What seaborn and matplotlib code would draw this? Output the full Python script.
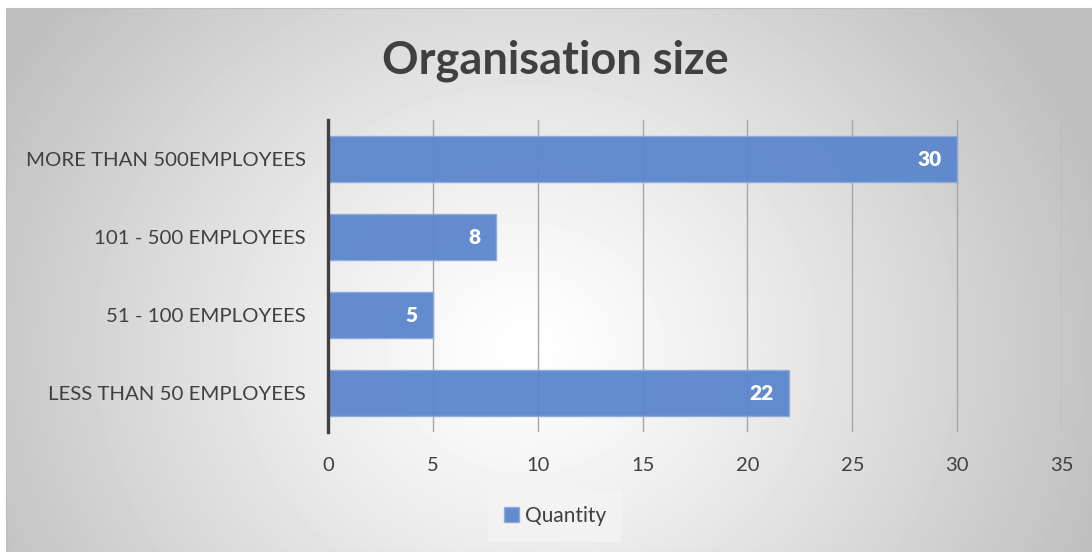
import numpy as np
import pandas as pd
import matplotlib.pyplot as plt
import seaborn as sb

# podaci
categories = ['MORE THAN 500EMPLOYEES', '101 - 500 EMPLOYEES', '51 - 100 EMPLOYEES', 'LESS THAN 50 EMPLOYEES']
quantity = [30, 8, 5, 22]
ticks = [0, 5, 10, 15, 20, 25, 30, 35]

df = pd.DataFrame({'size': categories, 'Quantity': quantity})

sb.set_style('white')
plt.rcParams['font.family'] = ['Lato', 'DejaVu Sans']
txt = '#404040'
bar_col = '#5b86cc'

fig = plt.figure(figsize=(10.92, 5.52), dpi=100)

# pozadina - radijalni gradijent
bg = fig.add_axes([6 / 1092, 0, 1 - 6 / 1092, 1 - 8 / 552])
yy, xx = np.mgrid[0:544, 0:1086]
r = np.sqrt(((xx - 520) / 600) ** 2 + ((yy - 340) / 540) ** 2)
shade = 1 - 0.25 * np.clip(r, 0, 1) ** 1.2
bg.imshow(shade, cmap='gray', vmin=0, vmax=1, aspect='auto', extent=[0, 1, 0, 1], origin='upper')
bg.set_xlim(0, 1)
bg.set_ylim(0, 1)
for s in bg.spines.values():
    s.set_color('#bfbfbf')
    s.set_linewidth(0.8)
bg.set_xticks([])
bg.set_yticks([])

ax = fig.add_axes([328 / 1092, 1 - 432 / 552, (1062 - 328) / 1092, 312 / 552])
ax.patch.set_alpha(0)
sb.barplot(data=df, y='size', x='Quantity', order=categories, orient='h', color=bar_col,
           width=0.59, saturation=1, edgecolor='#8eaadc', linewidth=1, alpha=0.95, ax=ax, zorder=3,
           label='Quantity')

for i, v in enumerate(quantity):
    ax.text(v - 0.75, i, str(v), color='white', fontweight='heavy', fontsize=15,
            ha='right', va='center', zorder=4)

ax.set_xlim(0, 35)
ax.set_xticks(ticks)
ax.xaxis.grid(True, color='#a6a6a6', linewidth=1, zorder=0)
ax.set_axisbelow(True)
ax.tick_params(axis='x', length=0, pad=18, labelsize=14.5, labelcolor=txt)
ax.tick_params(axis='y', length=0, pad=16, labelsize=14.7, labelcolor=txt)
ax.set_xlabel('')
ax.set_ylabel('')
for s in ['top', 'right', 'bottom']:
    ax.spines[s].set_visible(False)
ax.spines['left'].set_color('#404040')
ax.spines['left'].set_linewidth(2.4)
ax.spines['left'].set_zorder(5)

fig.text(555 / 1092, 1 - 61 / 552, 'Organisation size', ha='center', va='center',
         fontsize=32.5, fontweight='bold', color=txt)

leg = ax.legend(loc='center', bbox_to_anchor=(555 / 1092, 1 - 516 / 552), bbox_transform=fig.transFigure,
                frameon=True, fontsize=15, handlelength=0.7, handleheight=0.7, handletextpad=0.3,
                borderpad=0.75, borderaxespad=0, fancybox=False)
leg.get_frame().set_facecolor('#f4f4f4')
leg.get_frame().set_edgecolor('none')
for t in leg.get_texts():
    t.set_color(txt)

fig.savefig('out.png', dpi=100)
